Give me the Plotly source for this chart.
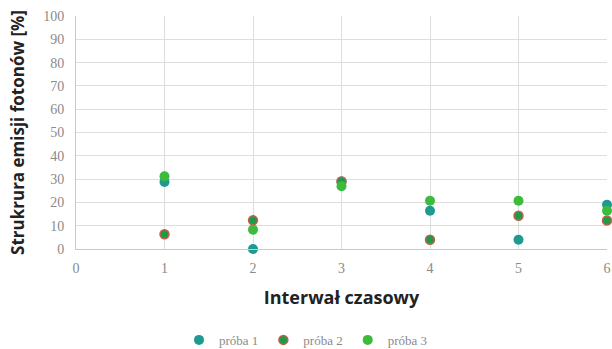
import plotly.graph_objects as go

x_vals = [1, 2, 3, 4, 5, 6]
proba1 = [28.8, 0.0, 29.0, 16.4, 4.0, 19.0]
proba2 = [6.3, 12.3, 29.0, 4.0, 14.3, 12.2]
proba3 = [31.2, 8.3, 26.9, 20.7, 20.7, 16.4]
names = ["próba 1", "próba 2", "próba 3"]
y_ticks = [0, 10, 20, 30, 40, 50, 60, 70, 80, 90, 100]
x_ticks = [0, 1, 2, 3, 4, 5, 6]

fig = go.Figure()
fig.add_trace(go.Scatter(x=x_vals, y=proba1, mode="markers", name=names[0],
                         marker=dict(size=10, color="#1f9a90", line=dict(width=0)),
                         cliponaxis=False))
fig.add_trace(go.Scatter(x=x_vals, y=proba2, mode="markers", name=names[1],
                         marker=dict(size=9, color="#1e9b4a", line=dict(width=1.5, color="#c0604d")),
                         cliponaxis=False))
fig.add_trace(go.Scatter(x=x_vals, y=proba3, mode="markers", name=names[2],
                         marker=dict(size=10, color="#3cbb3c", line=dict(width=0)),
                         cliponaxis=False))

tickfont = dict(family="Liberation Serif, DejaVu Serif, serif", size=14, color="#8a8a8a")
fig.update_layout(
    width=612, height=349,
    margin=dict(l=76, r=5, t=16, b=100, autoexpand=False),
    paper_bgcolor="white", plot_bgcolor="white",
    showlegend=True,
    legend=dict(orientation="h", x=0.5, xanchor="center", xref="container",
                y=0.026, yanchor="middle", yref="container",
                font=dict(family="Liberation Serif, DejaVu Serif, serif", size=13, color="#8a8a8a"),
                itemwidth=30, tracegroupgap=0),
    xaxis=dict(range=[0, 6], tickvals=x_ticks, ticktext=[str(v) for v in x_ticks],
               showgrid=True, gridcolor="#dedede", gridwidth=1,
               showline=True, linecolor="#c8c8c8", zeroline=False,
               ticks="", tickfont=tickfont, ticklabelstandoff=6, automargin=False,
               title=dict(text="Interwał czasowy", standoff=16,
                          font=dict(family="Open Sans, sans-serif", size=18, color="#222222", weight="bold"))),
    yaxis=dict(range=[0, 100], tickvals=y_ticks, showgrid=True, gridcolor="#dedede", gridwidth=1,
               showline=True, linecolor="#c8c8c8", zeroline=False,
               ticks="", tickfont=tickfont, ticklabelstandoff=8, automargin=False,
               title=dict(text="Strukrura emisji fotonów [%]", standoff=14,
                          font=dict(family="Open Sans, sans-serif", size=17, color="#222222", weight="bold"))),
)
fig.write_html("out.html")
